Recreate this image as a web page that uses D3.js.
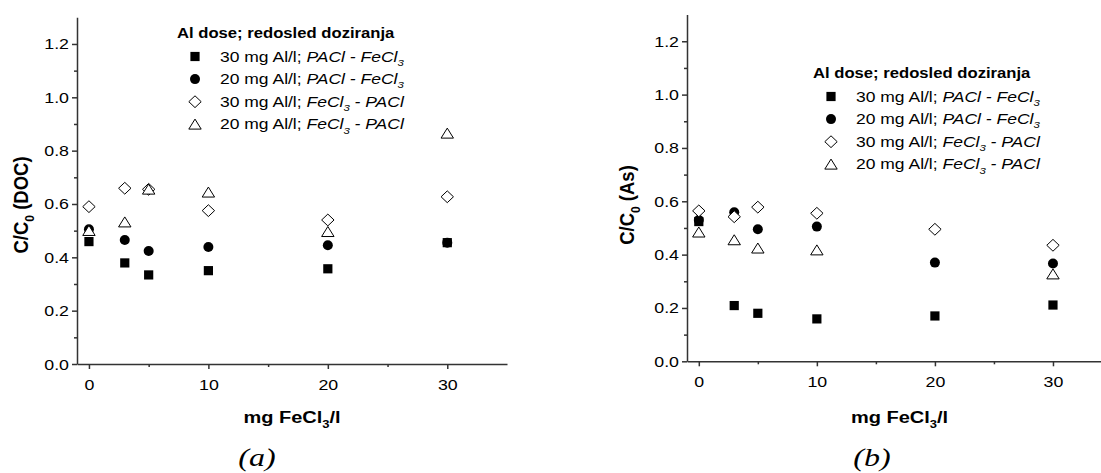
<!DOCTYPE html>
<html>
<head>
<meta charset="utf-8">
<script src="https://cdn.jsdelivr.net/npm/d3@7"></script>
<style>
  body { margin: 0; background: #fff; }
  svg { display: block; font-family: Arial, 'Liberation Sans', sans-serif; }
</style>
</head>
<body>
<svg id="chart" width="1101" height="473"></svg>
<script>
'use strict';

// Data
const doses = [0, 3, 5, 10, 20, 30]; // mg FeCl3/l

// (a) C/C0 (DOC)
const docPF30 = [0.459, 0.379, 0.334, 0.350, 0.357, 0.455];
const docPF20 = [0.505, 0.465, 0.424, 0.439, 0.445, 0.455];
const docFP30 = [0.590, 0.659, 0.655, 0.575, 0.540, 0.627];
const docFP20 = [0.500, 0.532, 0.655, 0.644, 0.496, 0.865];

// (b) C/C0 (As)
const asPF30 = [0.524, 0.209, 0.180, 0.159, 0.170, 0.211];
const asPF20 = [0.530, 0.559, 0.495, 0.505, 0.370, 0.367];
const asFP30 = [0.564, 0.542, 0.578, 0.555, 0.495, 0.435];
const asFP20 = [0.484, 0.455, 0.424, 0.417, null, 0.327];

const xMajor = [0, 10, 20, 30],
  xMinor = [5, 15, 25],
  yMajor = [0, 0.2, 0.4, 0.6, 0.8, 1.0, 1.2],
  yMinor = [0.1, 0.3, 0.5, 0.7, 0.9, 1.1];

const legendTitle = 'Al dose; redosled doziranja';
const legendLabels = [
  [{ t: '30 mg Al/l; ' }, { t: 'PACl - FeCl', it: 1 }, { t: '3', it: 1, sub: 1 }],
  [{ t: '20 mg Al/l; ' }, { t: 'PACl - FeCl', it: 1 }, { t: '3', it: 1, sub: 1 }],
  [{ t: '30 mg Al/l; ' }, { t: 'FeCl', it: 1 }, { t: '3', it: 1, sub: 1 }, { t: ' - PACl', it: 1 }],
  [{ t: '20 mg Al/l; ' }, { t: 'FeCl', it: 1 }, { t: '3', it: 1, sub: 1 }, { t: ' - PACl', it: 1 }],
];
const shapes = ['square', 'circle', 'diamond', 'triangle'];

// the source figure is stretched sideways, so text gets a horizontal scale
const tickSX = 1.27;
const axisColor = '#333';

const svg = d3.select('#chart');

function marker(g, shape, cx, cy) {
  if (shape === 'circle') {
    return g.append('circle').attr('cx', cx).attr('cy', cy).attr('r', 5).attr('fill', '#000');
  }
  let d;
  if (shape === 'square') d = 'M-4.6,-4.6h9.2v9.2h-9.2Z';
  if (shape === 'diamond') d = 'M0,-5.9L6.2,0L0,5.9L-6.2,0Z';
  if (shape === 'triangle') d = 'M0,-5.2L6.2,4.8L-6.2,4.8Z';
  const filled = shape === 'square';
  return g.append('path')
    .attr('d', d)
    .attr('transform', `translate(${cx},${cy})`)
    .attr('fill', filled ? '#000' : '#fff')
    .attr('stroke', '#000')
    .attr('stroke-width', filled ? 0 : 1);
}

// text with italic / subscript pieces
function label(g, x, y, parts, o) {
  const size = o.size || 14;
  let tr = `translate(${x},${y})`;
  if (o.rotate) tr += ` rotate(-90) scale(1,${o.sy || 1})`;
  else tr += ` scale(${o.sx || 1.2},1)`;
  const t = g.append('text')
    .attr('transform', tr)
    .attr('font-size', size)
    .attr('font-weight', o.bold ? 'bold' : null)
    .attr('font-family', o.family || null)
    .attr('text-anchor', o.anchor || 'start')
    .attr('fill', '#000');
  let lowered = false;
  parts.forEach(p => {
    const s = t.append('tspan').text(p.t);
    if (p.it) s.attr('font-style', 'italic');
    if (p.sub) {
      s.attr('font-size', size * 0.65).attr('dy', size * 0.3);
      lowered = true;
    } else if (lowered) {
      s.attr('dy', -size * 0.3);
      lowered = false;
    }
  });
  return t;
}

function panel(cfg) {
  const x = d3.scaleLinear([-1, 35], [cfg.x0, cfg.x1]);
  const y = d3.scaleLinear([0, 1.3], [cfg.y0, cfg.y1]);
  const g = svg.append('g');

  const styleAxis = sel => {
    sel.selectAll('path, line').attr('stroke', axisColor).attr('stroke-width', 1.5);
    sel.selectAll('text').attr('font-size', 14).attr('fill', '#000').attr('font-family', null);
  };

  // minor ticks
  g.append('g')
    .attr('transform', `translate(0,${cfg.y0})`)
    .call(d3.axisBottom(x).tickValues(xMinor).tickSize(3).tickFormat(''))
    .call(s => s.select('.domain').remove())
    .call(styleAxis);
  g.append('g')
    .attr('transform', `translate(${cfg.x0},0)`)
    .call(d3.axisLeft(y).tickValues(yMinor).tickSize(3).tickFormat(''))
    .call(s => s.select('.domain').remove())
    .call(styleAxis);

  // major axes
  const gx = g.append('g')
    .attr('transform', `translate(0,${cfg.y0})`)
    .call(d3.axisBottom(x).tickValues(xMajor).tickSize(5).tickSizeOuter(0).tickFormat(d3.format('d')))
    .call(styleAxis);
  gx.selectAll('text').each(function () {
    d3.select(this).attr('y', null).attr('dy', null)
      .attr('transform', `translate(0,26) scale(${tickSX},1)`);
  });

  const gy = g.append('g')
    .attr('transform', `translate(${cfg.x0},0)`)
    .call(d3.axisLeft(y).tickValues(yMajor).tickSize(5).tickSizeOuter(0).tickFormat(d3.format('.1f')))
    .call(styleAxis);
  gy.selectAll('text').each(function () {
    d3.select(this).attr('x', null).attr('dy', null)
      .attr('transform', `translate(-8,5) scale(${tickSX},1)`);
  });

  // points, drawn series by series
  const pts = g.append('g');
  cfg.series.forEach((vals, i) => {
    vals.forEach((v, j) => {
      if (v == null) return;
      marker(pts, shapes[i], x(doses[j]), y(v));
    });
  });

  // axis titles
  label(g, (cfg.x0 + cfg.x1) / 2, 423,
    [{ t: 'mg FeCl' }, { t: '3', sub: 1 }, { t: '/l' }],
    { size: 16, bold: 1, anchor: 'middle', sx: 1.25 });
  label(g, cfg.ylabX, 205,
    [{ t: 'C/C' }, { t: '0', sub: 1 }, { t: ' (' + cfg.ylab + ')' }],
    { size: 18.5, bold: 1, anchor: 'middle', rotate: 1, sy: 1.1 });

  // panel letter
  label(g, cfg.letterX, 466, [{ t: cfg.letter }],
    { size: 25, anchor: 'middle', family: "'Liberation Serif', 'Times New Roman', serif", sx: 1.28 })
    .attr('font-style', 'italic');

  // legend
  const lg = g.append('g');
  label(lg, cfg.leg.x, cfg.leg.y + 5, [{ t: legendTitle }], { size: 14, bold: 1, sx: 1.19 });
  legendLabels.forEach((parts, i) => {
    const ry = cfg.leg.y + 23.5 + i * 22.6;
    marker(lg, shapes[i], cfg.leg.x + 18, ry);
    label(lg, cfg.leg.x + 43, ry + 5, parts, { size: 14, sx: 1.25 });
  });
}

panel({
  x0: 77, x1: 507, y0: 364, y1: 17.3,
  series: [docPF30, docPF20, docFP30, docFP20],
  ylab: 'DOC', ylabX: 28, letter: '(a)', letterX: 257,
  leg: { x: 177, y: 33 },
});

panel({
  x0: 687, x1: 1112, y0: 361.3, y1: 14.6,
  series: [asPF30, asPF20, asFP30, asFP20],
  ylab: 'As', ylabX: 634, letter: '(b)', letterX: 872,
  leg: { x: 813, y: 73 },
});
</script>
</body>
</html>
